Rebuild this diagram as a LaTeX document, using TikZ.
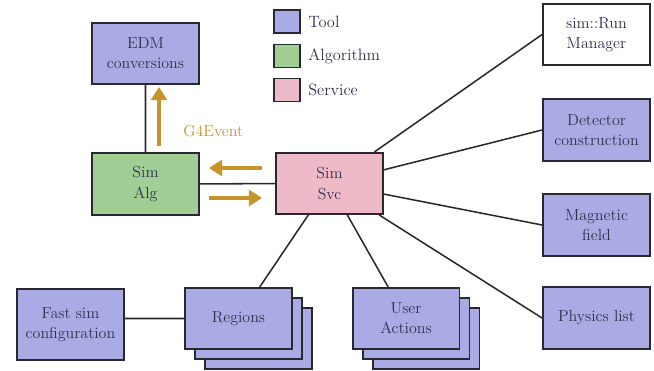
\documentclass[tikz,border=0pt]{standalone}
\usepackage{amsmath}
\usepackage{tikz}
\usetikzlibrary{arrows.meta,positioning,shadows}
\definecolor{toolblue}{RGB}{170,170,228}
\definecolor{algogreen}{RGB}{160,206,148}
\definecolor{svcpink}{RGB}{238,186,200}
\definecolor{boxline}{RGB}{40,40,48}
\definecolor{boxtext}{RGB}{48,48,78}
\definecolor{evgold}{RGB}{198,148,42}
\tikzset{box/.style={draw=boxline, line width=1.4pt, text=boxtext, align=center,
                     minimum width=77pt, minimum height=44pt, inner sep=1pt,
                     font=\fontsize{11.5}{14.5}\selectfont},
         tool/.style={box, fill=toolblue},
         algo/.style={box, fill=algogreen},
         svc/.style={box, fill=svcpink},
         stack/.style={copy shadow={shadow xshift=14.4pt, shadow yshift=-14.4pt,
                                    fill=toolblue, draw=boxline, line width=1.4pt},
                       copy shadow={shadow xshift=7.2pt, shadow yshift=-7.2pt,
                                    fill=toolblue, draw=boxline, line width=1.4pt}},
         key/.style={draw=boxline, line width=1.2pt, minimum width=18.7pt, minimum height=16.6pt, inner sep=0pt},
         keytext/.style={anchor=west, text=boxtext, inner sep=0pt, font=\fontsize{11.8}{14}\selectfont},
         link/.style={draw=boxline, line width=1.1pt},
         flow/.style={draw=evgold, line width=2.9pt, -{Triangle[width=11.5pt,length=9.5pt]}}}

\begin{document}
\begin{tikzpicture}[x=0.72pt, y=-0.72pt]
        \useasboundingbox (0,0) rectangle (654,371);

        % legend
        \node[key, fill=toolblue] (keytool) at (287,21.5) {};
        \node[key, fill=algogreen] (keyalgo) at (287,56) {};
        \node[key, fill=svcpink] (keysvc) at (287,90) {};
        \node[keytext] (keytoollbl) at (308,21.5) {Tool};
        \node[keytext] (keyalgolbl) at (308,56) {Algorithm};
        \node[keytext] (keysvclbl) at (308,90) {Service};

        % components
        \node[tool] (edm) at (145.5,53.5) {EDM\\conversions};
        \node[algo] (alg) at (145.5,184) {Sim\\Alg};
        \node[svc] (simsvc) at (329.5,183.5) {Sim\\Svc};
        \node[box, fill=white] (runmgr) at (596.5,34.5) {sim::Run\\Manager};
        \node[tool] (detector) at (596.5,130) {Detector\\construction};
        \node[tool] (magfield) at (596.5,225) {Magnetic\\field};
        \node[tool] (physics) at (596.5,318) {Physics list};
        \node[tool, minimum height=51pt] (fastsim) at (70.5,324.5) {Fast sim\\configuration};
        \node[tool, stack] (regions) at (238.5,318.5) {Regions};
        \node[tool, stack] (useract) at (406,318.5) {User\\Actions};

        \draw[link] (edm) -- (alg)
                    (alg) -- (simsvc)
                    (simsvc) -- (runmgr.west)
                    (simsvc) -- (detector.west)
                    (simsvc) -- (magfield.west)
                    (simsvc) -- (physics.west)
                    (simsvc) -- (regions)
                    (simsvc) -- (useract)
                    (fastsim.east |- regions.west) -- (regions.west);

        % event flow
        \coordinate (g4from) at (159,146);
        \coordinate (g4to) at (159,87);
        \coordinate (callfrom) at (262,168);
        \coordinate (callto) at (209,168);
        \coordinate (backfrom) at (209,198);
        \coordinate (backto) at (262,198);
        \draw[flow] (g4from) -- (g4to);
        \draw[flow] (callfrom) -- (callto);
        \draw[flow] (backfrom) -- (backto);
        \node[anchor=west, text=evgold, inner sep=0pt, font=\fontsize{11.5}{14}\selectfont] (g4lbl) at (183,131) {G4Event};
\end{tikzpicture}
\end{document}
